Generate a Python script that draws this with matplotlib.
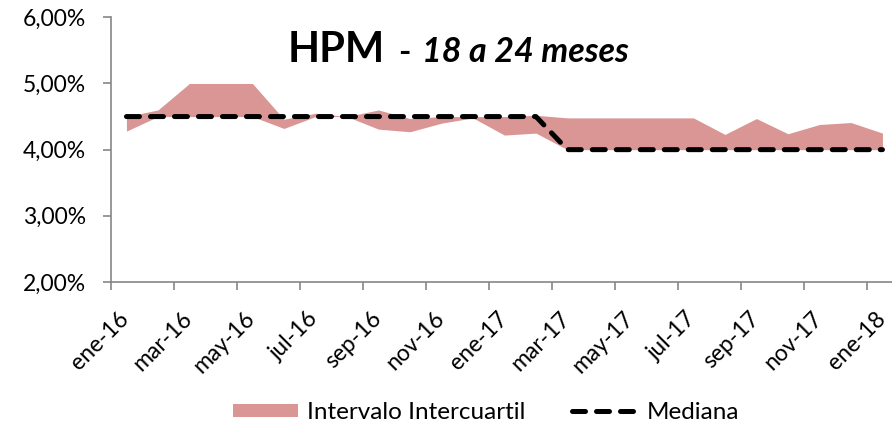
import numpy as np
import matplotlib.pyplot as plt
import matplotlib.transforms as mtransforms

plt.rcParams["font.family"] = ["Lato", "DejaVu Sans"]

# monthly categories ene-16 .. ene-18
months = ["ene-16", "feb-16", "mar-16", "abr-16", "may-16", "jun-16", "jul-16",
          "ago-16", "sep-16", "oct-16", "nov-16", "dic-16", "ene-17", "feb-17",
          "mar-17", "abr-17", "may-17", "jun-17", "jul-17", "ago-17", "sep-17",
          "oct-17", "nov-17", "dic-17", "ene-18"]

# percent values
q_low = [4.28, 4.50, 4.50, 4.50, 4.50, 4.32, 4.50, 4.50, 4.31, 4.27, 4.40, 4.48,
         4.22, 4.25, 4.00, 4.00, 4.00, 4.00, 4.00, 4.00, 4.00, 4.00, 4.00, 4.00, 4.00]
q_high = [4.50, 4.60, 5.00, 5.00, 5.00, 4.46, 4.55, 4.50, 4.60, 4.47, 4.50, 4.50,
          4.50, 4.52, 4.48, 4.48, 4.48, 4.48, 4.48, 4.23, 4.47, 4.24, 4.38, 4.41, 4.25]
median = [4.5] * 14 + [4.0] * 11

y_ticks = [2, 3, 4, 5, 6]

fill_color = "#d99694"
axis_gray = "#868686"

fig = plt.figure(figsize=(8.92, 4.25), dpi=100)
ax = fig.add_axes([110.7 / 892, 1 - 282 / 425, (898.2 - 110.7) / 892, (282 - 17.3) / 425])

x = np.arange(len(months))
ax.fill_between(x, q_low, q_high, color=fill_color, linewidth=0,
                label="Intervalo Intercuartil")
ax.plot(x, median, color="black", linewidth=3.6, dashes=(2.6, 2.2),
        dash_capstyle="round", label="Mediana")

ax.set_xlim(-0.5, len(months) - 0.5)
ax.set_ylim(2, 6)

ax.set_yticks(y_ticks)
ax.set_yticklabels([f"{v:.2f}%".replace(".", ",") for v in y_ticks], fontsize=16.5)

ax.set_xticks(x[::2])
ax.set_xticks(np.arange(-0.5, len(months), 2), minor=True)
ax.tick_params(axis="x", which="major", length=0, labelbottom=False)
ax.tick_params(axis="x", which="minor", length=5.8, color=axis_gray, width=1.2)
ax.tick_params(axis="y", length=5.8, color=axis_gray, width=1.2, pad=12)

# rotated month labels, baseline end anchored just right of each category centre
lbl_trans = ax.get_xaxis_transform()
off = mtransforms.ScaledTranslation(0.04, -0.38, fig.dpi_scale_trans)
for pos in x[::2]:
    ax.text(pos, 0, months[pos], transform=lbl_trans + off, fontsize=16.5,
            rotation=45, ha="right", va="baseline", rotation_mode="anchor")

for side in ["top", "right"]:
    ax.spines[side].set_visible(False)
for side in ["left", "bottom"]:
    ax.spines[side].set_color(axis_gray)
    ax.spines[side].set_linewidth(1.2)

# title
fig.text(288 / 892, 1 - 62 / 425, "HPM", fontsize=30, fontweight="bold")
fig.text(398 / 892, 1 - 62 / 425, "-", fontsize=24, fontweight="bold")
fig.text(422 / 892, 1 - 62 / 425, "18 a 24 meses", fontsize=24.5,
         fontweight="bold", fontstyle="italic")

fig.legend(loc="center", bbox_to_anchor=(486 / 892, 1 - 412.7 / 425), ncol=2,
           frameon=False, fontsize=17.5, handlelength=2.67, handleheight=0.5,
           columnspacing=1.9, handletextpad=0.4)

fig.savefig("out.png", dpi=100)
